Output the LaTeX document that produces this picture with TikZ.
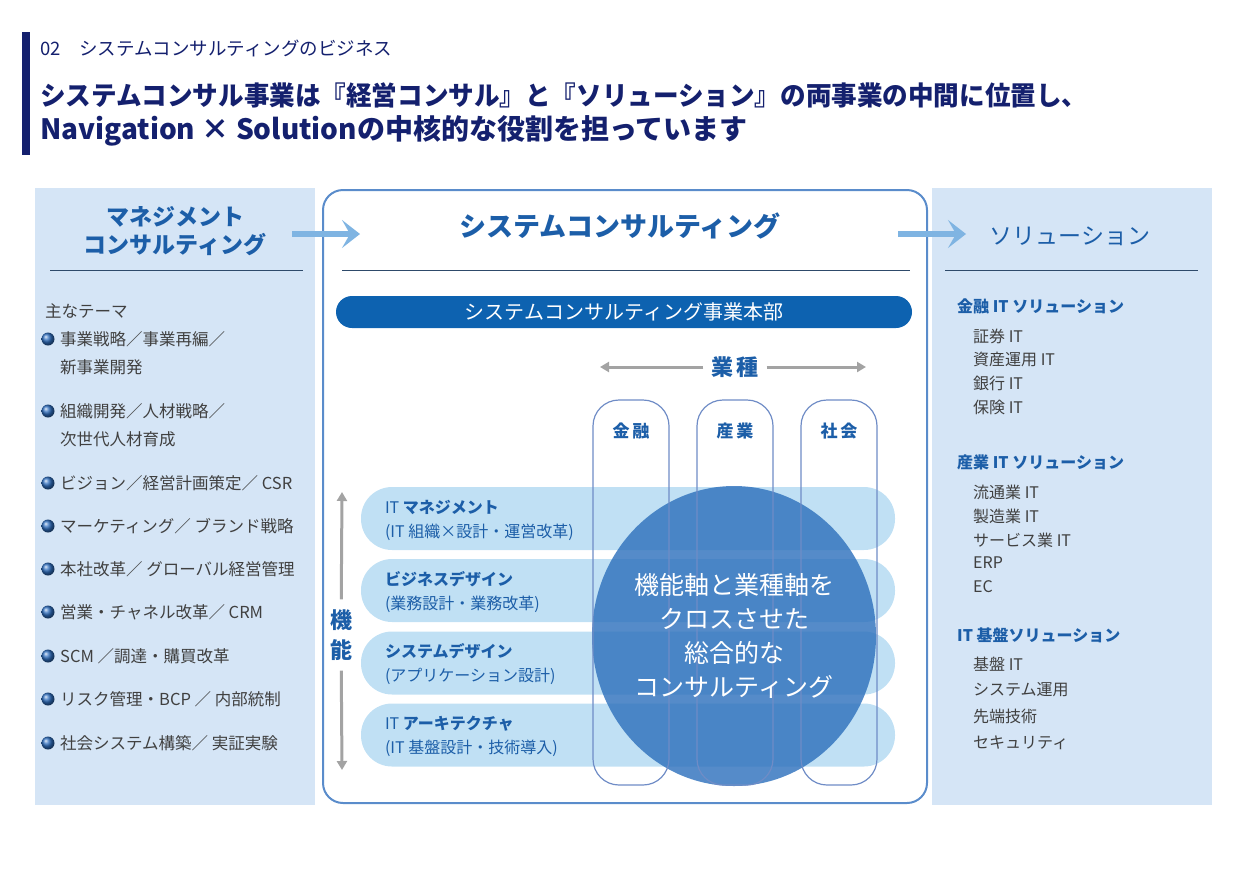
\documentclass[tikz,border=0pt]{standalone}
\usepackage{fontspec}
\usepackage{graphicx}
\setmainfont{Noto Sans CJK JP}
\usetikzlibrary{arrows.meta}
\usetikzlibrary{shapes.geometric}
\usetikzlibrary{positioning}

\definecolor{titlenavy}{HTML}{14206E}
\definecolor{panelblue}{HTML}{D5E5F6}
\definecolor{bandblue}{HTML}{C0E0F4}
\definecolor{circleblue}{HTML}{2F72BD}
\definecolor{pillblue}{HTML}{0D62B0}
\definecolor{textblue}{HTML}{1C5EA8}
\definecolor{boxline}{HTML}{5A8CCB}
\definecolor{colline}{HTML}{6F8CC6}
\definecolor{arrowblue}{HTML}{7FB4E2}
\definecolor{axisgray}{HTML}{A3A3A3}
\definecolor{itemgray}{HTML}{404040}
\definecolor{rulegray}{HTML}{2E4A6A}
\definecolor{bulletblue}{HTML}{2F6FC0}

\tikzset{
  maintitle/.style={anchor=west, inner sep=0pt, text=titlenavy, font=\fontsize{26.5}{30}\selectfont\bfseries},
  subtitle/.style={anchor=west, inner sep=0pt, text=titlenavy, font=\fontsize{18.5}{20}\selectfont},
  panelhead/.style={align=center, text=textblue, font=\fontsize{23}{28}\selectfont},
  item/.style={anchor=west, inner sep=0pt, text=itemgray, font=\fontsize{16.5}{20}\selectfont},
  solhead/.style={anchor=west, inner sep=0pt, text=textblue, font=\fontsize{16}{20}\selectfont\bfseries},
  solitem/.style={anchor=west, inner sep=0pt, text=itemgray, font=\fontsize{16}{20}\selectfont},
  bandbox/.style={fill=bandblue, rounded corners=31pt, minimum width=534pt, minimum height=63pt},
  bandtext/.style={anchor=west, align=left, inner sep=0pt, text=textblue, font=\fontsize{16}{24}\selectfont},
  column/.style={draw=colline, line width=1.2pt, rounded corners=26pt, minimum width=76pt, minimum height=385pt},
  collabel/.style={text=textblue, font=\fontsize{17}{20}\selectfont\bfseries},
  axislabel/.style={text=textblue, align=center, font=\fontsize{22}{30}\selectfont\bfseries},
  axisarrow/.style={draw=axisgray, line width=3pt, -{Triangle[length=9pt,width=10pt]}},
  flowarrow/.style={draw=arrowblue, line width=6pt, -{Stealth[length=18pt,width=28pt,inset=8pt]}},
  rule/.style={draw=rulegray, line width=1pt}
}

\begin{document}
\begin{tikzpicture}[x=1pt,y=-1pt]
  \useasboundingbox (0,0) rectangle (1255,868);

  % header
  \fill[titlenavy] (22,32) rectangle (30,155);
  \node[subtitle] (sub) at (40,48) {02　システムコンサルティングのビジネス};
  \node[maintitle] (title1) at (40,95) {\scalebox{0.965}[1]{システムコンサル事業は『経営コンサル』と『ソリューション』の両事業の中間に位置し、}};
  \node[maintitle, font=\fontsize{28}{30}\selectfont\bfseries] (title2) at (40,131) {Navigation × Solutionの中核的な役割を担っています};

  % side panels
  \fill[panelblue] (35,188) rectangle (315,805);
  \fill[panelblue] (932,188) rectangle (1212,805);

  % centre box
  \node[draw=boxline, line width=2pt, rounded corners=20pt, minimum width=604pt, minimum height=613pt] (sc) at (625,496.5) {};
  \node[text=textblue, font=\fontsize{27}{30}\selectfont\bfseries] (sctitle) at (620,226) {システムコンサルティング};
  \draw[rule] (342,270) -- (910,270);
  \node[fill=pillblue, rounded corners=16pt, minimum width=576pt, minimum height=32pt, text=white, font=\fontsize{20}{22}\selectfont] (honbu) at (624,312) {システムコンサルティング事業本部};

  % left panel
  \node[panelhead, font=\fontsize{23}{28}\selectfont\bfseries] (mgmt) at (175,231) {マネジメント\\コンサルティング};
  \draw[rule] (50,270) -- (303,270);
  \node[item] (theme) at (45,311) {主なテーマ};
  \foreach \y/\txt [count=\i] in {339/{事業戦略／事業再編／}, 411/{組織開発／人材戦略／}, 483/{ビジョン／経営計画策定／ CSR},
      526/{マーケティング／ ブランド戦略}, 569/{本社改革／ グローバル経営管理}, 612/{営業・チャネル改革／ CRM},
      656/{SCM ／調達・購買改革}, 699/{リスク管理・BCP ／ 内部統制}, 743/{社会システム構築／ 実証実験}} {
    \shade[ball color=bulletblue] (48,\y) circle (6.5pt);
    \node[item] (theme\i) at (60,\y) {\txt};
  }
  \node[item] (theme1b) at (60,367) {新事業開発};
  \node[item] (theme2b) at (60,439) {次世代人材育成};

  % right panel
  \node[panelhead] (sol) at (1070,236) {ソリューション};
  \draw[rule] (945,270) -- (1198,270);
  \node[solhead] (solA) at (957,306) {金融 IT ソリューション};
  \node[solhead] (solB) at (957,462) {産業 IT ソリューション};
  \node[solhead] (solC) at (957,635) {IT 基盤ソリューション};
  \foreach \y/\txt [count=\i] in {336/証券 IT, 359/資産運用 IT, 383/銀行 IT, 407/保険 IT,
      492/流通業 IT, 516/製造業 IT, 540/サービス業 IT, 563/ERP, 587/EC,
      664/基盤 IT, 690/システム運用, 716/先端技術, 743/セキュリティ}
    \node[solitem] (sol\i) at (973,\y) {\txt};

  % flow arrows
  \coordinate (inS) at (292,234);
  \coordinate (inE) at (360,234);
  \coordinate (outS) at (898,234);
  \coordinate (outE) at (966,234);
  \draw[flowarrow] (inS) -- (inE);
  \draw[flowarrow] (outS) -- (outE);

  % function bands
  \node[bandbox] (band1) at (628,518.5) {};
  \node[bandbox] (band2) at (628,590.5) {};
  \node[bandbox] (band3) at (628,663) {};
  \node[bandbox] (band4) at (628,735) {};
  \node[bandtext] (bt1) at ([xshift=24pt,yshift=-1.5pt]band1.west) {IT \textbf{マネジメント}\\(IT 組織×設計・運営改革)};
  \node[bandtext] (bt2) at ([xshift=24pt,yshift=-1.5pt]band2.west) {\textbf{ビジネスデザイン}\\(業務設計・業務改革)};
  \node[bandtext] (bt3) at ([xshift=24pt,yshift=-1.5pt]band3.west) {\textbf{システムデザイン}\\(アプリケーション設計)};
  \node[bandtext] (bt4) at ([xshift=24pt,yshift=-1.5pt]band4.west) {IT \textbf{アーキテクチャ}\\(IT 基盤設計・技術導入)};

  % cross circle
  \node[ellipse, fill=circleblue, fill opacity=.82, inner sep=0pt, minimum width=284pt, minimum height=300pt] (cross) at (734,636) {};

  % industry columns
  \node[column] (kinyu) at (631,592.5) {};
  \node[column] (sangyo) at (735,592.5) {};
  \node[column] (shakai) at (839,592.5) {};
  \node[collabel, below=20pt of kinyu.north] (kinyuL) {金\,融};
  \node[collabel, below=20pt of sangyo.north] (sangyoL) {産\,業};
  \node[collabel, below=20pt of shakai.north] (shakaiL) {社\,会};

  \node[text=white, align=center, font=\fontsize{25}{34}\selectfont] (crosstext) at (cross.center) {機能軸と業種軸を\\クロスさせた\\総合的な\\コンサルティング};

  % axes
  \node[axislabel, inner sep=8pt] (gyoshu) at (735,367) {業\hspace{3pt}種};
  \coordinate (gyL) at (600,367);
  \coordinate (gyR) at (866,367);
  \draw[axisarrow] (gyoshu) -- (gyL);
  \draw[axisarrow] (gyoshu) -- (gyR);
  \node[axislabel, inner sep=10pt] (kino) at (341,635) {機\\能};
  \coordinate (knT) at (342,492);
  \coordinate (knB) at (342,770);
  \draw[axisarrow] (kino) -- (knT);
  \draw[axisarrow] (kino) -- (knB);
\end{tikzpicture}
\end{document}
